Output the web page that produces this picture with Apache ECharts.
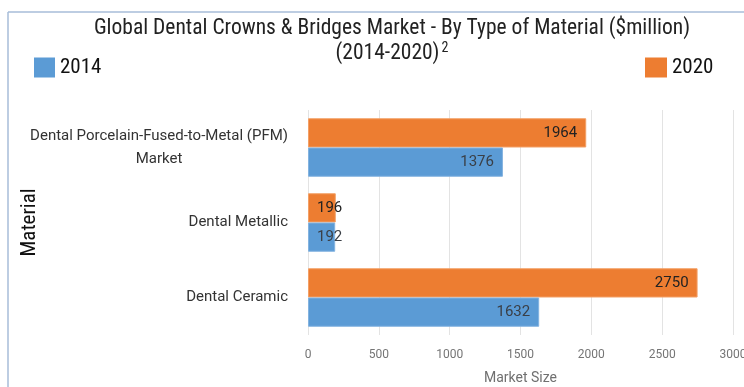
<!DOCTYPE html>
<html>
<head>
<meta charset="utf-8">
<script src="https://cdn.jsdelivr.net/npm/echarts@6/dist/echarts.min.js"></script>
<style>
html,body{margin:0;padding:0;background:#fff;}
#chart{width:744px;height:387px;}
</style>
</head>
<body>
<div id="chart"></div>
<script>
const categories = ['Dental Ceramic', 'Dental Metallic', 'Dental Porcelain-Fused-to-Metal (PFM) Market'];
const values2014 = [1632, 192, 1376];
const values2020 = [2750, 196, 1964];
const xTicks = [0, 500, 1000, 1500, 2000, 2500, 3000];
const seriesNames = ['2014', '2020'];

const condensed = "'Roboto Condensed','Liberation Sans Narrow','DejaVu Sans Condensed',Roboto,sans-serif";
const chart = echarts.init(document.getElementById('chart'), null, {renderer: 'canvas'});

function mkData(arr) {
  return arr.map(v => ({
    value: v,
    label: v < 400 ? {position: 'insideLeft', distance: 9} : {position: 'insideRight', distance: 9}
  }));
}

const option = {
  backgroundColor: '#fff',
  animation: false,
  title: {
    text: 'Global Dental Crowns & Bridges Market - By Type of Material ($million)\n{p|(2014-2020)}{sup|2}',
    left: 392,
    top: 16,
    padding: 0,
    textAlign: 'center',
    textStyle: {
      fontFamily: condensed, fontSize: 21.5, fontWeight: 'normal', color: '#222', lineHeight: 25,
      rich: {
        p: {fontFamily: condensed, fontSize: 21.5, color: '#222', lineHeight: 26},
        sup: {fontFamily: condensed, fontSize: 14, color: '#222', verticalAlign: 'top', padding: [0, 0, 0, 2], lineHeight: 14}
      }
    }
  },
  legend: [
    {data: [seriesNames[0]], left: 34, top: 57, padding: 0, icon: 'rect', itemWidth: 21, itemHeight: 20, itemGap: 8,
     itemStyle: {borderWidth: 0},
     textStyle: {fontFamily: condensed, fontSize: 21, color: '#111'}},
    {data: [seriesNames[1]], left: 645, top: 57, padding: 0, icon: 'rect', itemWidth: 22, itemHeight: 20, itemGap: 8,
     itemStyle: {borderWidth: 0},
     textStyle: {fontFamily: condensed, fontSize: 21, color: '#111'}}
  ],
  grid: {left: 308, right: 11, top: 110, bottom: 52, containLabel: false, outerBoundsMode: 'none'},
  xAxis: {
    type: 'value', min: xTicks[0], max: xTicks[xTicks.length - 1], interval: 500,
    name: 'Market Size', nameLocation: 'middle', nameGap: 36, nameMoveOverlap: false,
    nameTextStyle: {fontFamily: 'Roboto', fontSize: 14, color: '#707070'},
    axisLine: {show: false}, axisTick: {show: false},
    axisLabel: {fontFamily: 'Roboto', fontSize: 12, color: '#757575', margin: 14,
      formatter: function (v) { return String(v); }},
    splitLine: {show: true, lineStyle: {color: '#e3e3e3', width: 1}}
  },
  yAxis: {
    type: 'category', data: categories,
    name: 'Material', nameLocation: 'middle', nameRotate: 90, nameGap: 268, nameMoveOverlap: false,
    nameTextStyle: {fontFamily: condensed, fontSize: 21, color: '#111'},
    axisLine: {show: false}, axisTick: {show: false},
    axisLabel: {
      margin: 20, fontFamily: 'Roboto', fontSize: 15, color: '#333', lineHeight: 23,
      formatter: function (v) {
        const i = v.indexOf(' Market');
        if (i > 0) return '{c|' + v.slice(0, i) + '}\n{c|' + v.slice(i + 1) + '}';
        return v;
      },
      rich: {c: {fontFamily: 'Roboto', fontSize: 15, color: '#333', align: 'center', lineHeight: 23}}
    }
  },
  series: [
    {
      name: seriesNames[1], type: 'bar', data: mkData(values2020),
      barGap: '0%', barCategoryGap: '22%',
      itemStyle: {color: '#ED7D31', borderColor: '#f3a066', borderWidth: 1},
      label: {show: true, fontFamily: 'Roboto', fontSize: 15, color: '#222'}
    },
    {
      name: seriesNames[0], type: 'bar', data: mkData(values2014),
      barGap: '0%', barCategoryGap: '22%',
      itemStyle: {color: '#5B9BD5', borderColor: '#83b3e0', borderWidth: 1},
      label: {show: true, fontFamily: 'Roboto', fontSize: 15, color: '#3a3f46'}
    }
  ],
  graphic: [
    {type: 'line', shape: {x1: 8, y1: 12, x2: 744, y2: 12}, style: {stroke: '#a7bcd8', lineWidth: 1.5}, silent: true},
    {type: 'line', shape: {x1: 8, y1: 12, x2: 8, y2: 387}, style: {stroke: '#a7bcd8', lineWidth: 1.5}, silent: true}
  ]
};
chart.setOption(option);
</script>
</body>
</html>
